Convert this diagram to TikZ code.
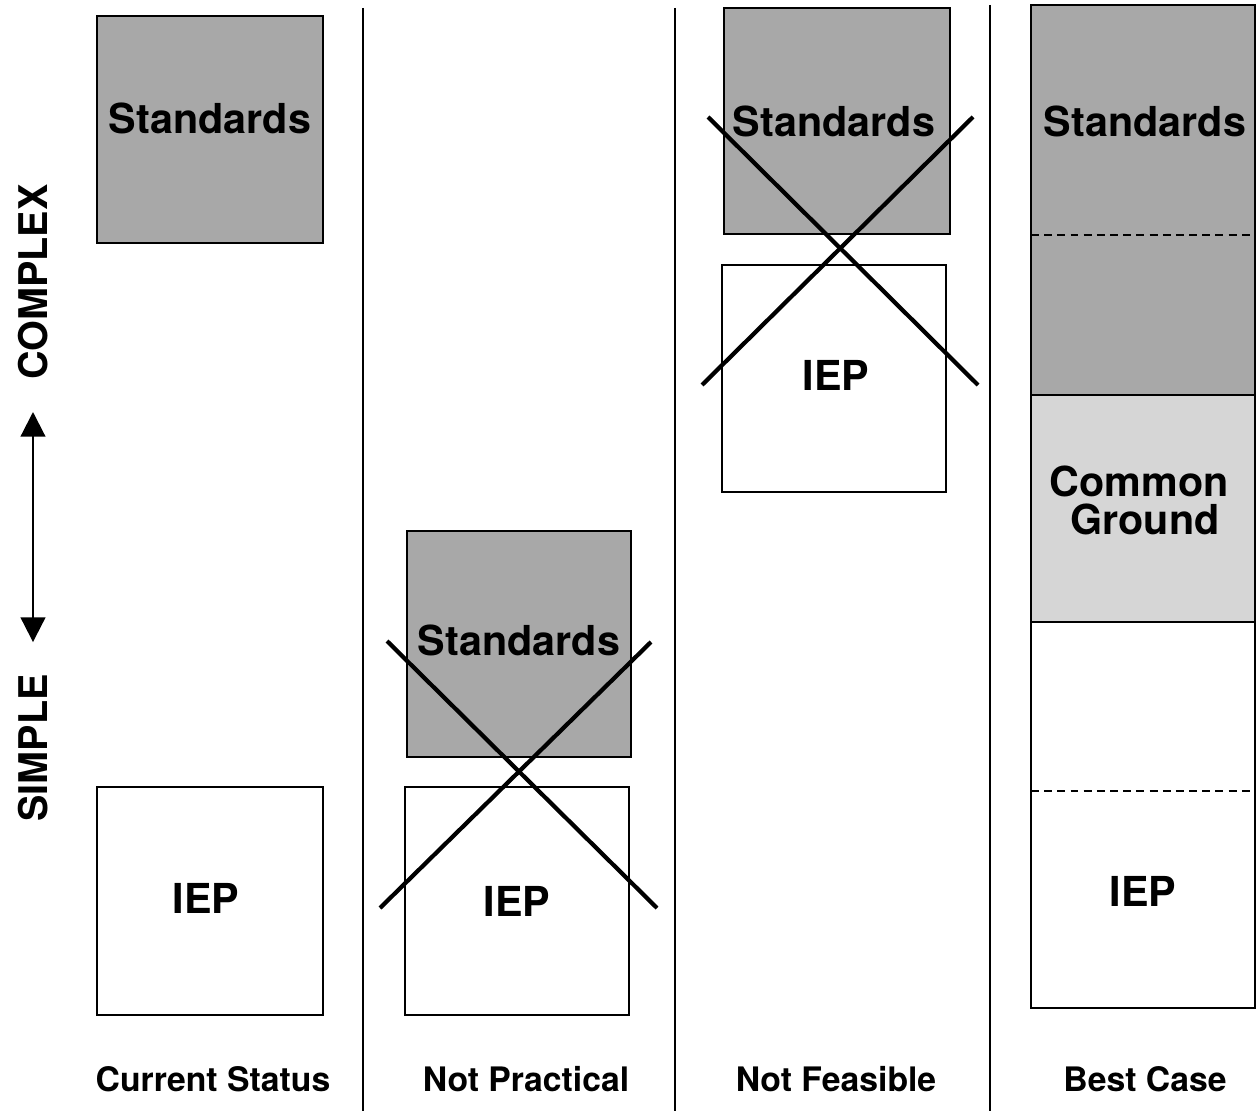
\documentclass[tikz,border=0pt]{standalone}
\usepackage{fontspec}
\setmainfont{TeX Gyre Heros}
\usetikzlibrary{arrows.meta}
\definecolor{stdgray}{gray}{0.66}
\definecolor{cggray}{gray}{0.84}
\begin{document}
\begin{tikzpicture}[x=0.02cm,y=-0.02cm,
  boxline/.style={line width=1.1pt},
  divider/.style={line width=1.5pt},
  crossline/.style={line width=2.4pt},
  dashline/.style={line width=1.4pt, dash pattern=on 4.5pt off 3pt},
  lbl/.style={font=\bfseries\fontsize{23.5}{26}\selectfont, inner sep=0},
  captxt/.style={font=\bfseries\fontsize{19.2}{22}\selectfont, inner sep=0},
  side/.style={font=\bfseries\fontsize{22.5}{25}\selectfont, inner sep=0, rotate=90},
  axisarrow/.style={line width=1.2pt, {Triangle[length=14pt,width=14pt]}-{Triangle[length=14pt,width=14pt]}}]
\useasboundingbox (0,0) rectangle (1258,1111);
\fill[white] (0,0) rectangle (1258,1111);
% dividers
\draw[divider] (363,8) -- (363,1111);
\draw[divider] (675,8) -- (675,1111);
\draw[divider] (990,5) -- (990,1111);
% column 1
\draw[boxline, fill=stdgray] (97,16) rectangle (323,243);
\draw[boxline] (97,787) rectangle (323,1015);
\node[lbl] (s1) at (210,118) {Standards};
\node[lbl] (i1) at (206,898) {IEP};
% column 2
\draw[boxline, fill=stdgray] (407,531) rectangle (631,757);
\draw[boxline] (405,787) rectangle (629,1015);
\node[lbl] (s2) at (519,640) {Standards};
\node[lbl] (i2) at (517,901) {IEP};
\draw[crossline] (387,641) -- (657,908);
\draw[crossline] (380,908) -- (651,642);
% column 3
\draw[boxline, fill=stdgray] (724,8) rectangle (950,234);
\draw[boxline] (722,265) rectangle (946,492);
\node[lbl] (s3) at (834,121) {Standards};
\node[lbl] (i3) at (836,375) {IEP};
\draw[crossline] (708,117) -- (978,385);
\draw[crossline] (702,385) -- (973,117);
% column 4
\fill[stdgray] (1031,5) rectangle (1255,395);
\fill[cggray] (1031,395) rectangle (1255,622);
\draw[dashline] (1031,235) -- (1255,235);
\draw[dashline] (1031,791) -- (1255,791);
\draw[boxline] (1031,395) -- (1255,395);
\draw[boxline] (1031,622) -- (1255,622);
\draw[boxline] (1031,5) rectangle (1255,1008);
\node[lbl] (s4) at (1145,121) {Standards};
\node[lbl] (cg1) at (1139,481) {Common};
\node[lbl] (cg2) at (1145,519) {Ground};
\node[lbl] (i4) at (1143,891) {IEP};
% captions
\node[captxt] (c1) at (213,1079) {Current Status};
\node[captxt] (c2) at (526,1079) {Not Practical};
\node[captxt] (c3) at (836,1079) {Not Feasible};
\node[captxt] (c4) at (1145,1079) {Best Case};
% axis
\node[side] (simple) at (33,748) {SIMPLE};
\node[side] (complex) at (33,282) {COMPLEX};
\path (complex.west) ++(0,32) coordinate (atop);
\path (simple.east) ++(0,-32) coordinate (abot);
\draw[axisarrow] (atop) -- (abot);
\end{tikzpicture}
\end{document}
